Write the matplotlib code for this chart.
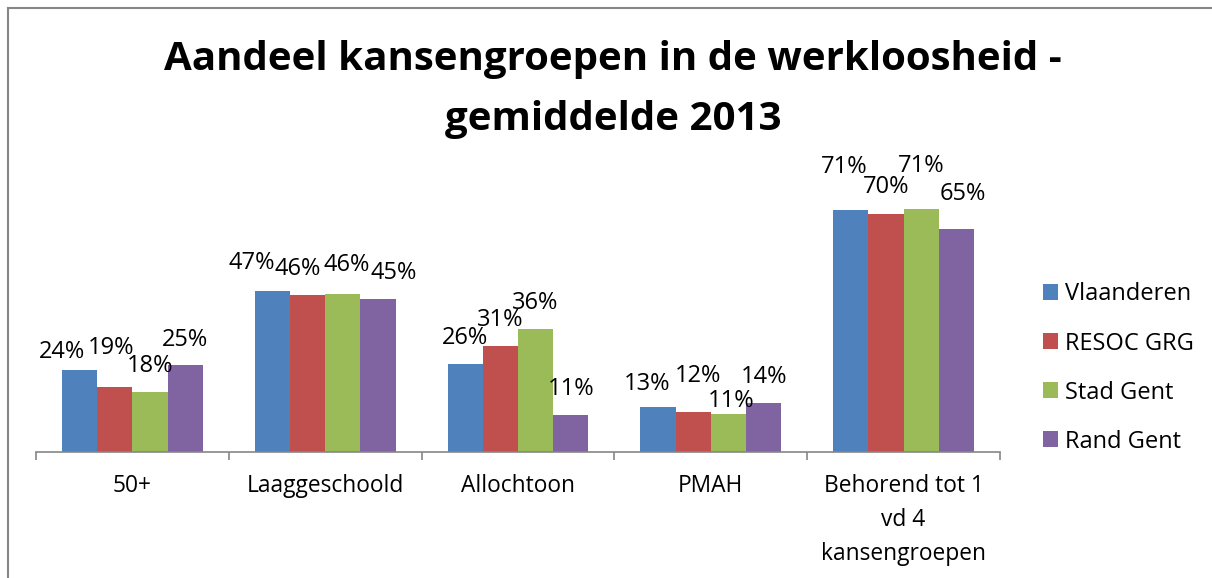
import matplotlib
matplotlib.use("Agg")
import matplotlib.pyplot as plt
from matplotlib.lines import Line2D
import numpy as np

# ---- data ----
categories = ["50+", "Laaggeschoold", "Allochtoon", "PMAH", "Behorend tot 1\nvd 4\nkansengroepen"]
series_names = ["Vlaanderen", "RESOC GRG", "Stad Gent", "Rand Gent"]
vlaanderen = [23.9, 47.3, 25.7, 13.1, 71.1]
resoc_grg = [19.1, 46.1, 31.1, 11.7, 69.9]
stad_gent = [17.6, 46.4, 36.1, 11.1, 71.3]
rand_gent = [25.4, 45.0, 10.9, 14.4, 65.4]
title_lines = ["Aandeel kansengroepen in de werkloosheid -", "gemiddelde 2013"]

# ---- style ----
colors = ["#4F81BD", "#C0504D", "#9BBB59", "#8064A2"]
# label offsets (pixels) relative to bar top centre, per series
label_dx = [[-18, -21, 0, -11, -6.5],
            [-4, -10, 0, 4.5, 0],
            [0, 3.5, 0, 3, 0],
            [0, 16, 0, 0, 6]]
label_dy = [[12, 22, 20, 17, 37],
            [33, 20, 20, 30, 21],
            [20, 23, 20, 7, 37],
            [19, 20, 20, 20, 29]]

W, H = 1212, 578
DPI = 100
fig = plt.figure(figsize=(W / DPI, H / DPI), dpi=DPI)
fig.patch.set_facecolor("white")
FONT = "Open Sans"
plt.rcParams["font.family"] = [FONT, "DejaVu Sans"]

ax_left, ax_right = 36, 1000
ax_base, ax_top = 451.7, 179.7
ax = fig.add_axes([ax_left / W, 1 - ax_base / H, (ax_right - ax_left) / W, (ax_base - ax_top) / H])

all_series = [vlaanderen, resoc_grg, stad_gent, rand_gent]
x = np.arange(len(categories))
group = 0.73
bw = group / len(all_series)
for i, (vals, name) in enumerate(zip(all_series, series_names)):
    pos = x - group / 2 + bw * (i + 0.5)
    ax.bar(pos, vals, width=bw, color=colors[i], label=name, linewidth=0)
    for j, (p, v) in enumerate(zip(pos, vals)):
        ax.annotate(f"{round(v):d}%", xy=(p, v), xytext=(label_dx[i][j], label_dy[i][j]),
                    textcoords="offset pixels", ha="center", va="baseline",
                    fontsize=17, color="black", annotation_clip=False)

ax.set_xlim(-0.5, len(categories) - 0.5)
ax.set_ylim(0, 80)
for s in ["top", "right", "left"]:
    ax.spines[s].set_visible(False)
ax.spines["bottom"].set_color("#868686")
ax.spines["bottom"].set_linewidth(1.2)
ax.set_yticks([])
ax.set_xticks(np.arange(-0.5, len(categories), 1.0))
ax.set_xticklabels([])
ax.tick_params(axis="x", which="major", length=6, width=1.2, color="#868686", direction="out")
ax.set_xticks(x, minor=True)
ax.set_xticklabels(categories, minor=True, fontsize=16.4, linespacing=1.56)
ax.tick_params(axis="x", which="minor", length=0, pad=16)

for k, line in enumerate(title_lines):
    fig.text(613 / W, 1 - (70 + 60 * k) / H, line, ha="center", va="baseline",
             fontsize=29, fontweight="bold", color="black")

handles, labels = ax.get_legend_handles_labels()
fig.legend(handles, labels, loc="upper left", bbox_to_anchor=(1042.7 / W, 1 - 282.5 / H),
           frameon=False, fontsize=17, handlelength=0.64, handleheight=0.64,
           handletextpad=0.31, labelspacing=1.06, borderpad=0, borderaxespad=0)

# chart border (Excel chart area)
fig.add_artist(Line2D([7.5 / W, 1], [1 - 7.5 / H, 1 - 7.5 / H], color="#868686", lw=1.5,
                      transform=fig.transFigure))
fig.add_artist(Line2D([7.5 / W, 7.5 / W], [0, 1 - 7.5 / H], color="#868686", lw=1.5,
                      transform=fig.transFigure))

fig.savefig("out.png", dpi=DPI)
